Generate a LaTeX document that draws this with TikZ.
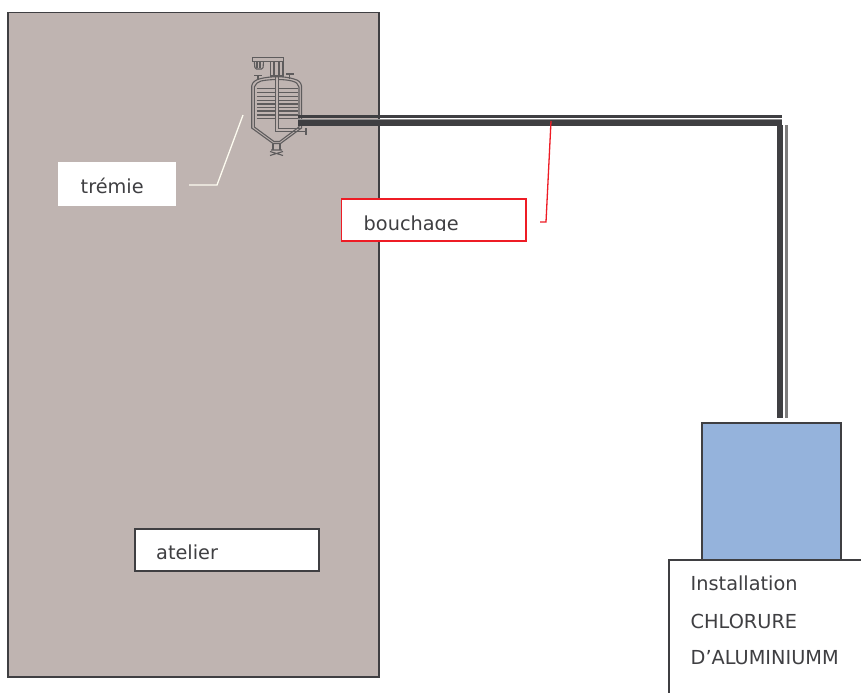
\documentclass[tikz,border=0pt]{standalone}
\usepackage{fontspec}
\setmainfont{DejaVu Sans}
\definecolor{wall}{HTML}{BFB4B1}
\definecolor{ink}{HTML}{3F3F42}
\definecolor{tank}{HTML}{95B3DC}
\definecolor{gr}{HTML}{5E5C5D}
\definecolor{redl}{HTML}{EE1C25}
\definecolor{cream}{HTML}{FDFBF0}
\tikzset{
  lbl/.style={font=\fontsize{19.3}{22}\selectfont,text=ink,anchor=base west,inner sep=0pt},
  box/.style={draw=ink,line width=1.3pt,fill=white},
  ves/.style={draw=gr,line width=1.1pt},
  pipe/.style={fill=ink,draw=none}
}
\begin{document}
\begin{tikzpicture}[x=1pt,y=-1pt]
\useasboundingbox (0,0) rectangle (861,693);
\fill[white] (0,0) rectangle (861,693);
% workshop
\draw[fill=wall,draw=ink,line width=1.3pt] (8,12.5) rectangle (379,677);
% hopper
\draw[ves] (252.3,57.3) rectangle (283.3,61.3);
\draw[ves,rounded corners=1.5pt] (254.3,61.3) -- (255,69) -- (263,69) -- (263.5,61.3);
\draw[ves] (257,62) -- (257,68) (260,62) -- (260,68);
\draw[ves] (270.5,61.3) rectangle (283,76);
\draw[ves] (274,61.3) -- (274,76) (279,61.3) -- (279,76);
\draw[ves] (254,75.3) -- (262,75.3) (258,75.3) -- (258,80);
\draw[ves] (286,74) -- (294,74) (289.5,74) -- (289.5,79);
\draw[ves] (251.7,128) -- (251.7,86) .. controls (252,82) and (256,80) .. (259,79) .. controls (270,76) and (285,76) .. (294,79) .. controls (298,80) and (301,82) .. (301.5,86) -- (301.5,128) -- (280.5,143.5) -- (273,143.5) -- cycle;
\draw[ves] (254.3,127) -- (254.3,87) .. controls (255,84) and (258,82) .. (261,81) .. controls (271,79) and (284,79) .. (292,81) .. controls (296,82) and (298.5,84) .. (299,87) -- (299,127) -- (279.5,141.5) -- (274,141.5) -- cycle;
\foreach \yy in {88.5,92.5,96.5,100.5,104,107.5,111,115,118.5}
  \draw[gr,line width=1.2pt] (256.7,\yy) -- (298,\yy);
\fill[wall] (275.7,78) rectangle (278.3,128);
\draw[ves] (275.7,76) -- (275.7,131.5) -- (306,131.5);
\draw[ves] (278.3,76) -- (278.3,128.3) -- (300,128.3);
\draw[ves,line width=1.4pt] (306,128) -- (306,135);
\draw[ves] (273,143.5) -- (273,150) (280,143.5) -- (280,150);
\draw[ves] (271,150) -- (282,150) (270,155.5) -- (283,151.5) (270,151.5) -- (283,155.5);
% pipes
\fill[pipe] (298,115) rectangle (782,117.5);
\fill[gr!70] (298,119) rectangle (782,120);
\fill[pipe] (298,120) rectangle (782,126);
\fill[pipe] (776.5,125) rectangle (783,418);
\fill[gr!80] (785,125) rectangle (787.5,418);
% tank
\draw[fill=tank,draw=ink,line width=1.3pt] (702,423) rectangle (841,560);
% installation box
\fill[white] (669,560) rectangle (861,693);
\draw[ink,line width=1.3pt] (861,560) -- (669,560) -- (669,693);
\node[lbl] (inst) at (690.5,590.5) {Installation};
\node[lbl] (chl) at (690.5,628) {CHLORURE};
\node[lbl] (alu) at (690.5,664) {D’ALUMINIUMM};
% atelier
\node[box,draw=ink,minimum width=184pt,minimum height=42pt,inner sep=0pt] (atbox) at (227,550) {};
\node[lbl] (at) at (156,559) {atelier};
% tremie
\fill[white] (58,161.5) rectangle (175.5,205.5);
\node[lbl] (tr) at (80.5,193) {trémie};
\coordinate (ta) at (189,185);
\coordinate (tb) at (217,185);
\coordinate (tc) at (243,115);
\draw[cream,line width=1.3pt] (ta) -- (tb) -- (tc);
% bouchage
\fill[white] (341.5,199) rectangle (526,241);
\node[lbl] (bo) at (363.5,230) {bouchage};
\fill[white] (342,230.5) rectangle (526,241);
\draw[redl,line width=1.5pt] (341.5,199) rectangle (526,241);
\coordinate (ra) at (551,121);
\coordinate (rb) at (546,222);
\coordinate (rc) at (540,222);
\draw[redl,line width=1.3pt] (ra) -- (rb) -- (rc);
\end{tikzpicture}
\end{document}
